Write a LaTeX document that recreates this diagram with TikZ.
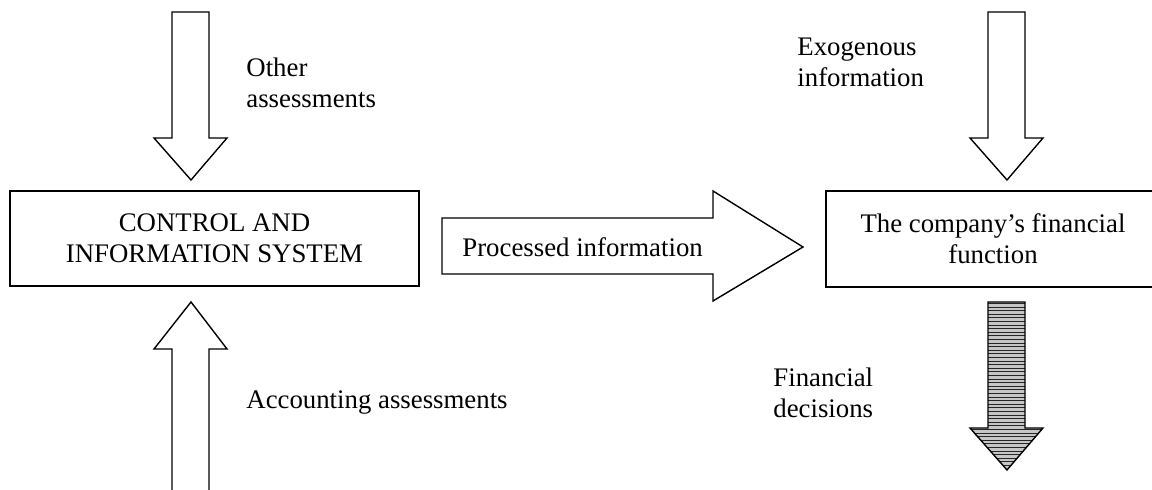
\documentclass[tikz,border=0pt]{standalone}
\usepackage{fontspec}
\setmainfont{Liberation Serif}
\begin{document}
\begin{tikzpicture}[x=0.5pt,y=-0.5pt,
  box/.style={draw, line width=0.9pt, inner sep=0pt, align=center, font=\fontsize{13.4}{15.4}\selectfont},
  lbl/.style={anchor=west, align=left, inner sep=0pt, font=\fontsize{13.4}{15.4}\selectfont},
  barrow/.style={draw, line width=0.7pt, fill=white, line join=miter}]
\clip (0,0) rectangle (1152,490);
% boxes
\node[box, minimum width=204.5pt, minimum height=47.75pt] (ctrl) at (214.5,238.5) {CONTROL AND\\INFORMATION SYSTEM};
\node[box, minimum width=167pt, minimum height=48pt] (fin) at (993,239) {The company's financial\\function};
% block arrows
\draw[barrow] (172,12) -- (209,12) -- (209,138) -- (227,138) -- (191,180) -- (154,138) -- (172,138) -- cycle;
\draw[barrow] (172,510) -- (172,349) -- (154,349) -- (191,302) -- (227,349) -- (209,349) -- (209,510) -- cycle;
\draw[barrow] (988,12) -- (1025,12) -- (1025,138) -- (1043,138) -- (1007,180) -- (970,138) -- (988,138) -- cycle;
\draw[barrow] (442,218) -- (713,218) -- (713,191) -- (803,247) -- (713,301) -- (713,274) -- (442,274) -- cycle;
% striped arrow
\begin{scope}
  \clip (988,302) -- (1025,302) -- (1025,428) -- (1043,428) -- (1007,470) -- (970,428) -- (988,428) -- cycle;
  \fill[gray!45] (960,300) rectangle (1050,475);
  \foreach \yy in {303.5,307.1,...,472} \draw[black!85, line width=0.5pt] (960,\yy) -- (1050,\yy);
\end{scope}
\draw[line width=0.7pt, line join=miter] (988,302) -- (1025,302) -- (1025,428) -- (1043,428) -- (1007,470) -- (970,428) -- (988,428) -- cycle;
% labels
\node[lbl] (other) at (246,82.5) {Other\\assessments};
\node[lbl] (acc) at (246,403) {Accounting assessments};
\node[lbl] (exo) at (797,62) {Exogenous\\information};
\node[lbl] (fdec) at (773,393) {Financial\\decisions};
\node[lbl] (proc) at (462,247) {Processed information};
\end{tikzpicture}
\end{document}
